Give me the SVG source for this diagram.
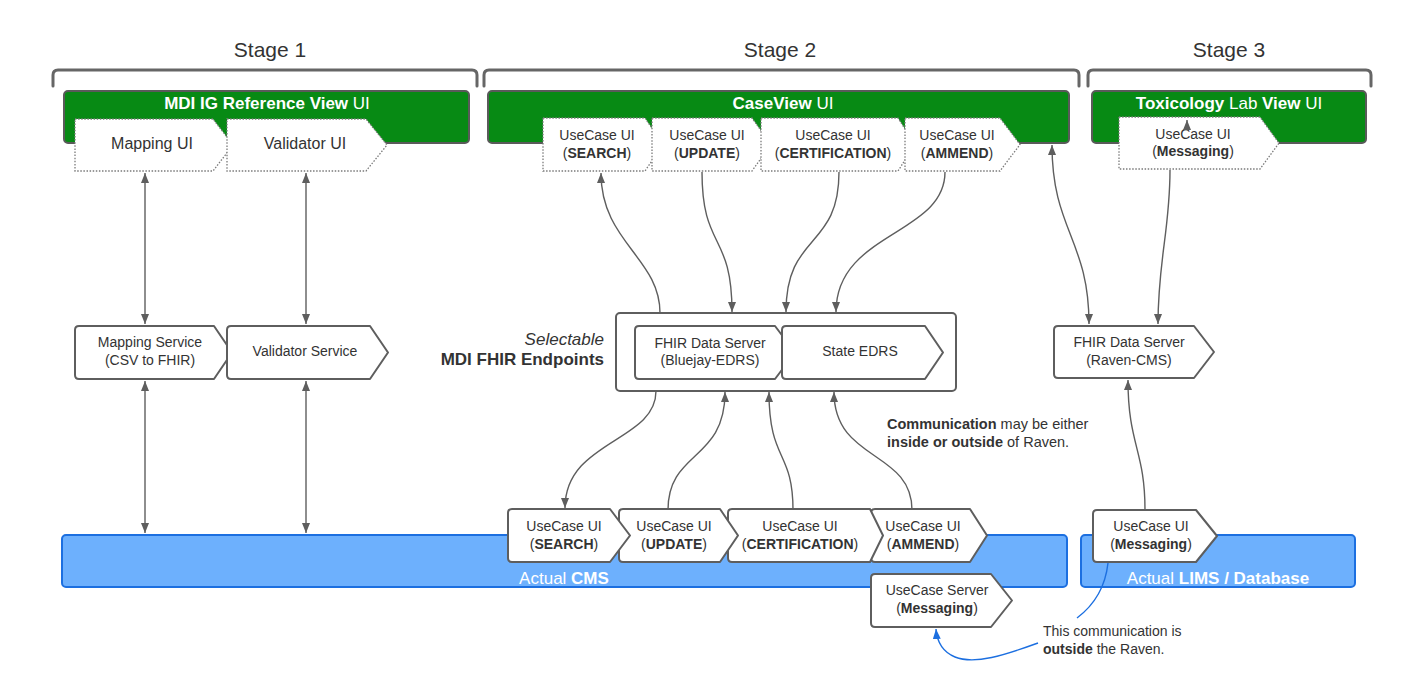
<svg xmlns="http://www.w3.org/2000/svg" width="1416" height="692" viewBox="0 0 1416 692">
<style>
text{font-family:"Liberation Sans",Arial,sans-serif;fill:#333;}
.st{font-size:21px;}
.gt{font-size:17px;fill:#fff;}
.m{font-size:14px;}
.l{font-size:16px;}
.bt{font-size:17px;fill:#fff;}
.b{font-weight:bold;}
.n{fill:#fff;stroke:#5e5e5e;stroke-width:2;stroke-linejoin:round;}
.d{fill:#fff;stroke:#7a7a7a;stroke-width:1.3;stroke-dasharray:1.5 1.6;}
.g{fill:#078a14;stroke:#5a5a5a;stroke-width:2;}
.bl{fill:#6db0fd;stroke:#1c6fe0;stroke-width:2;}
.br{fill:none;stroke:#666;stroke-width:3;stroke-linecap:round;}
.c{fill:none;stroke:#5e5e5e;stroke-width:1.4;}
.cb{fill:none;stroke:#1c6fe0;stroke-width:1.4;}
</style>
<defs>
<marker id="ah" viewBox="0 0 10 8" refX="10" refY="4" markerWidth="10" markerHeight="8" markerUnits="userSpaceOnUse" orient="auto-start-reverse"><path d="M0,0 L10,4 L0,8 Z" fill="#5e5e5e"/></marker>
<marker id="ahb" viewBox="0 0 10 8" refX="10" refY="4" markerWidth="10" markerHeight="8" markerUnits="userSpaceOnUse" orient="auto-start-reverse"><path d="M0,0 L10,4 L0,8 Z" fill="#1c6fe0"/></marker>
</defs>
<rect width="1416" height="692" fill="#fff"/>

<g id="stages">
<text class="st" x="270" y="57" text-anchor="middle">Stage 1</text>
<text class="st" x="780" y="57" text-anchor="middle">Stage 2</text>
<text class="st" x="1229" y="57" text-anchor="middle">Stage 3</text>
<path class="br" d="M53,86 V75 Q53,70 58,70 H472 Q477,70 477,75 V86"/>
<path class="br" d="M484,86 V75 Q484,70 489,70 H1074 Q1079,70 1079,75 V86"/>
<path class="br" d="M1088,86 V75 Q1088,70 1093,70 H1366 Q1371,70 1371,75 V86"/>
</g>

<g id="stage1-ui">
<rect class="g" x="64" y="91" width="405" height="52" rx="4"/>
<text class="gt" x="267" y="109" text-anchor="middle"><tspan class="b">MDI IG Reference View</tspan> UI</text>
</g>
<g id="stage2-ui">
<rect class="g" x="488" y="91" width="581" height="52" rx="4"/>
<text class="gt" x="783" y="109" text-anchor="middle"><tspan class="b">CaseView</tspan> UI</text>
</g>
<g id="stage3-ui">
<rect class="g" x="1092" y="91" width="274" height="52" rx="4"/>
<text class="gt" x="1229" y="109" text-anchor="middle"><tspan class="b">Toxicology</tspan> Lab <tspan class="b">View</tspan> UI</text>
</g>

<g id="mapping-ui">
<path class="d" d="M75,119 H213 L233,145 L213,171 H75 Z"/>
<text class="l" x="152" y="149" text-anchor="middle">Mapping UI</text>
</g>
<g id="validator-ui">
<path class="d" d="M227,119 H366 L387,145 L366,171 H227 Z"/>
<text class="l" x="305" y="149" text-anchor="middle">Validator UI</text>
</g>

<g id="uc-search-top">
<path class="d" d="M543,118 H645 L663,144.5 L645,171 H543 Z"/>
<text class="m" x="597" y="140" text-anchor="middle">UseCase UI</text>
<text class="m" x="597" y="158" text-anchor="middle">(<tspan class="b">SEARCH</tspan>)</text>
</g>
<g id="uc-update-top">
<path class="d" d="M652,118 H752 L771,144.5 L752,171 H652 Z"/>
<text class="m" x="707" y="140" text-anchor="middle">UseCase UI</text>
<text class="m" x="707" y="158" text-anchor="middle">(<tspan class="b">UPDATE</tspan>)</text>
</g>
<g id="uc-cert-top">
<path class="d" d="M761,118 H898 L915,144.5 L898,171 H761 Z"/>
<text class="m" x="833" y="140" text-anchor="middle">UseCase UI</text>
<text class="m" x="833" y="158" text-anchor="middle">(<tspan class="b">CERTIFICATION</tspan>)</text>
</g>
<g id="uc-ammend-top">
<path class="d" d="M905,118 H1000 L1020,144.5 L1000,171 H905 Z"/>
<text class="m" x="957" y="140" text-anchor="middle">UseCase UI</text>
<text class="m" x="957" y="158" text-anchor="middle">(<tspan class="b">AMMEND</tspan>)</text>
</g>
<g id="uc-messaging-top">
<path class="d" d="M1119,117 H1260 L1279,143 L1260,169 H1119 Z"/>
<text class="m" x="1193" y="139" text-anchor="middle">UseCase UI</text>
<text class="m" x="1193" y="156" text-anchor="middle">(<tspan class="b">Messaging</tspan>)</text>
</g>

<g id="mapping-service">
<path class="n" d="M79,326 H214 L232,352.5 L214,379 H79 Q75,379 75,375 V330 Q75,326 79,326 Z"/>
<text class="m" x="150" y="347" text-anchor="middle">Mapping Service</text>
<text class="m" x="150" y="365" text-anchor="middle">(CSV to FHIR)</text>
</g>
<g id="validator-service">
<path class="n" d="M231,326 H370 L388,352.5 L370,379 H231 Q227,379 227,375 V330 Q227,326 231,326 Z"/>
<text class="m" x="305" y="356" text-anchor="middle">Validator Service</text>
</g>

<g id="endpoints">
<text x="604" y="345" text-anchor="end" style="font-size:17px;font-style:italic">Selectable</text>
<text x="604" y="365" text-anchor="end" class="b" style="font-size:17px">MDI FHIR Endpoints</text>
<rect class="n" x="616" y="313" width="340" height="78" rx="4"/>
</g>
<g id="fhir-bluejay">
<path class="n" d="M639,326 H775 L795,352.5 L775,379 H639 Q635,379 635,375 V330 Q635,326 639,326 Z"/>
<text class="m" x="710" y="348" text-anchor="middle">FHIR Data Server</text>
<text class="m" x="710" y="365" text-anchor="middle">(Bluejay-EDRS)</text>
</g>
<g id="state-edrs">
<path class="n" d="M786,326 H925 L943,352.5 L925,379 H786 Q782,379 782,375 V330 Q782,326 786,326 Z"/>
<text class="m" x="860" y="356" text-anchor="middle">State EDRS</text>
</g>
<g id="fhir-raven">
<path class="n" d="M1058,326 H1194 L1214,352 L1194,378 H1058 Q1054,378 1054,374 V330 Q1054,326 1058,326 Z"/>
<text class="m" x="1129" y="347" text-anchor="middle">FHIR Data Server</text>
<text class="m" x="1129" y="365" text-anchor="middle">(Raven-CMS)</text>
</g>

<g id="cms">
<rect class="bl" x="62" y="535" width="1005" height="52" rx="4"/>
<text class="bt" x="564" y="584" text-anchor="middle">Actual <tspan class="b" style="fill:#fff">CMS</tspan></text>
</g>
<g id="lims">
<rect class="bl" x="1081" y="535" width="274" height="52" rx="4"/>
<text class="bt" x="1218" y="584" text-anchor="middle">Actual <tspan class="b" style="fill:#fff">LIMS / Database</tspan></text>
</g>

<g id="uc-ammend-bottom">
<path class="n" d="M875,509 H970 L987,535.5 L970,562 H875 Q871,562 871,558 V513 Q871,509 875,509 Z"/>
<text class="m" x="923" y="531" text-anchor="middle">UseCase UI</text>
<text class="m" x="923" y="549" text-anchor="middle">(<tspan class="b">AMMEND</tspan>)</text>
</g>
<g id="uc-cert-bottom">
<path class="n" d="M732,509 H870 L883,535.5 L870,562 H732 Q728,562 728,558 V513 Q728,509 732,509 Z"/>
<text class="m" x="800" y="531" text-anchor="middle">UseCase UI</text>
<text class="m" x="800" y="549" text-anchor="middle">(<tspan class="b">CERTIFICATION</tspan>)</text>
</g>
<g id="uc-update-bottom">
<path class="n" d="M623,509 H720 L738,535.5 L720,562 H623 Q619,562 619,558 V513 Q619,509 623,509 Z"/>
<text class="m" x="674" y="531" text-anchor="middle">UseCase UI</text>
<text class="m" x="674" y="549" text-anchor="middle">(<tspan class="b">UPDATE</tspan>)</text>
</g>
<g id="uc-search-bottom">
<path class="n" d="M512,509 H610 L630,535.5 L610,562 H512 Q508,562 508,558 V513 Q508,509 512,509 Z"/>
<text class="m" x="564" y="531" text-anchor="middle">UseCase UI</text>
<text class="m" x="564" y="549" text-anchor="middle">(<tspan class="b">SEARCH</tspan>)</text>
</g>
<g id="uc-server-messaging">
<path class="n" d="M875,574 H991 L1012,600.5 L991,627 H875 Q871,627 871,623 V578 Q871,574 875,574 Z"/>
<text class="m" x="937" y="595" text-anchor="middle">UseCase Server</text>
<text class="m" x="937" y="613" text-anchor="middle">(<tspan class="b">Messaging</tspan>)</text>
</g>
<g id="uc-messaging-bottom">
<path class="n" d="M1097,510 H1196 L1217,536 L1196,562 H1097 Q1093,562 1093,558 V514 Q1093,510 1097,510 Z"/>
<text class="m" x="1151" y="531" text-anchor="middle">UseCase UI</text>
<text class="m" x="1151" y="549" text-anchor="middle">(<tspan class="b">Messaging</tspan>)</text>
</g>

<g id="connectors">
<path class="c" d="M145,173 L145,324" marker-start="url(#ah)" marker-end="url(#ah)"/>
<path class="c" d="M306,173 L306,324" marker-start="url(#ah)" marker-end="url(#ah)"/>
<path class="c" d="M145,381 L145,533" marker-start="url(#ah)" marker-end="url(#ah)"/>
<path class="c" d="M306,381 L306,533" marker-start="url(#ah)" marker-end="url(#ah)"/>
<path class="c" d="M660,313 C660,258 601,242 601,173" marker-end="url(#ah)"/>
<path class="c" d="M702,172 C702,250 732,232 732,312" marker-end="url(#ah)"/>
<path class="c" d="M839,172 C839,250 786,232 786,312" marker-end="url(#ah)"/>
<path class="c" d="M945,172 C945,235 836,232 836,312" marker-end="url(#ah)"/>
<path class="c" d="M1052,145 C1052,230 1089,240 1089,324" marker-start="url(#ah)" marker-end="url(#ah)"/>
<path class="c" d="M1158,324 C1158,260 1170,230 1170,170" marker-start="url(#ah)"/>
<path class="c" d="M1187,130 L1187,120" marker-end="url(#ah)"/>
<path class="c" d="M656,391 C656,442 565,440 565,508" marker-end="url(#ah)"/>
<path class="c" d="M668,510 C668,450 725,462 725,392" marker-end="url(#ah)"/>
<path class="c" d="M793,510 C793,450 769,462 769,392" marker-end="url(#ah)"/>
<path class="c" d="M912,510 C912,450 834,462 834,392" marker-end="url(#ah)"/>
<path class="c" d="M1145,510 C1145,450 1128,445 1128,380" marker-end="url(#ah)"/>
<path class="cb" d="M1108,563 C1105,590 1093,606 1077,618 M1038,643 C1005,655 975,665 955,657 C943,652 937,642 936,629" marker-end="url(#ahb)"/>
</g>

<g id="notes">
<text x="887" y="429" style="font-size:14.5px"><tspan class="b">Communication</tspan> may be either</text>
<text x="887" y="447" style="font-size:14.5px"><tspan class="b">inside or outside</tspan> of Raven.</text>
<text x="1043" y="636" style="font-size:14px">This communication is</text>
<text x="1043" y="654" style="font-size:14px"><tspan class="b">outside</tspan> the Raven.</text>
</g>
</svg>
